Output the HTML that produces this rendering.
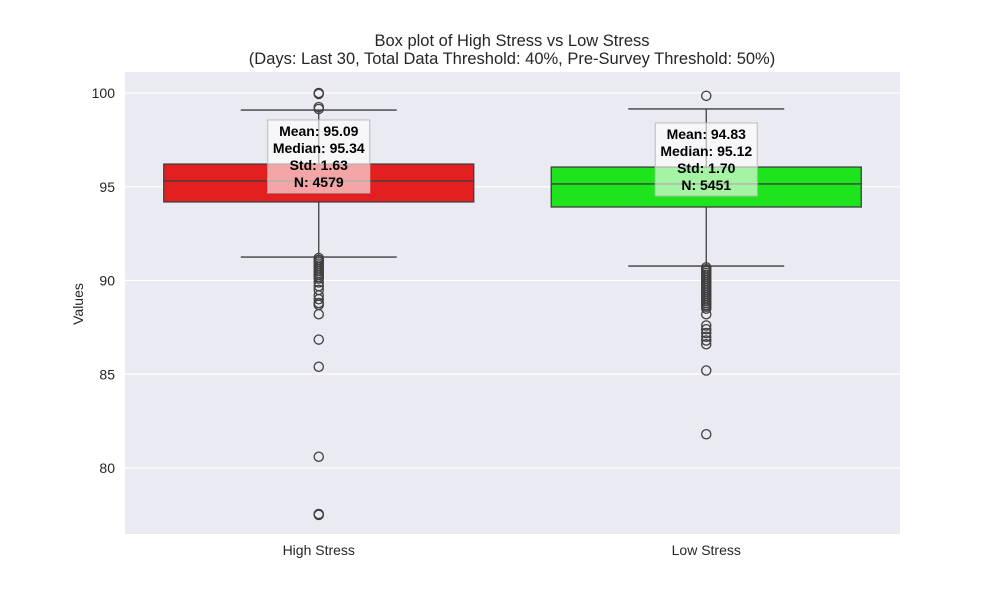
<!DOCTYPE html>
<html><head><meta charset="utf-8"><style>
body{margin:0;background:#fff;font-family:"Liberation Sans",sans-serif;}
svg text{font-family:"Liberation Sans",sans-serif;}
</style></head><body>
<svg id="chart" width="1000" height="600">
<text x="512" y="46" text-anchor="middle" font-size="16.5" fill="#262626">Box plot of High Stress vs Low Stress</text>
<text x="512" y="64" text-anchor="middle" font-size="16.5" fill="#262626">(Days: Last 30, Total Data Threshold: 40%, Pre-Survey Threshold: 50%)</text>
<rect x="125" y="72" width="775" height="462" fill="#eaeaf2"/>
<g id="grid"></g><g id="marks"></g>
<text transform="translate(83,304) rotate(-90)" text-anchor="middle" font-size="14" fill="#262626">Values</text>
</svg>
<script>
const categories=["High Stress","Low Stress"];
const colors=["#e41f1f","#1de41d"];
const q1=[94.19,93.92];
const medians=[95.31,95.15];
const q3=[96.21,96.05];
const whiskLo=[91.25,90.77];
const whiskHi=[99.09,99.15];
const outliersHigh=[100,99.95,99.25,99.15,91.2,91.1,91.0,90.9,90.8,90.7,90.6,90.5,90.4,90.3,90.2,90.1,89.9,89.7,89.5,89.2,89.0,88.8,88.7,88.2,86.85,85.4,80.6,77.55,77.5];
const outliersLow=[99.85,90.7,90.6,90.5,90.4,90.3,90.2,90.1,90.0,89.9,89.8,89.7,89.6,89.5,89.4,89.3,89.2,89.1,89.0,88.9,88.8,88.7,88.6,88.5,88.2,87.6,87.4,87.2,87.0,86.8,86.6,85.2,81.8];
const means=["95.09","94.83"],medText=["95.34","95.12"],stds=["1.63","1.70"],ns=["4579","5451"];
const yTicks=[80,85,90,95,100];
const y=v=>93+(100-v)*18.75;
const xc=i=>125+775*(i+0.5)/2;
const NS="http://www.w3.org/2000/svg";
function mk(p,t,a){const e=document.createElementNS(NS,t);for(const k in a)e.setAttribute(k,a[k]);p.appendChild(e);return e;}
const grid=document.getElementById('grid'),marks=document.getElementById('marks'),svg=document.getElementById('chart');
yTicks.forEach(t=>{
 const l=mk(grid,'line',{x1:125,x2:900,y1:y(t),y2:y(t),stroke:'#fff','stroke-width':1.2});
 
 
 const tx=mk(svg,'text',{x:115,y:y(t)+5,'text-anchor':'end','font-size':14,fill:'#262626'});tx.textContent=t;
 
 
});
const outs=[outliersHigh,outliersLow];
categories.forEach((c,i)=>{
 const cx=xc(i),hw=155,cw=78;
 const g=mk(marks,'g',{});
 
 
 mk(g,'line',{x1:cx,x2:cx,y1:y(whiskHi[i]),y2:y(q3[i]),stroke:'#3f3f3f','stroke-width':1.3});
 mk(g,'line',{x1:cx,x2:cx,y1:y(q1[i]),y2:y(whiskLo[i]),stroke:'#3f3f3f','stroke-width':1.3});
 mk(g,'line',{x1:cx-cw,x2:cx+cw,y1:y(whiskHi[i]),y2:y(whiskHi[i]),stroke:'#3f3f3f','stroke-width':1.3});
 mk(g,'line',{x1:cx-cw,x2:cx+cw,y1:y(whiskLo[i]),y2:y(whiskLo[i]),stroke:'#3f3f3f','stroke-width':1.3});
 mk(g,'rect',{x:cx-hw,y:y(q3[i]),width:2*hw,height:y(q1[i])-y(q3[i]),fill:colors[i],stroke:'#3f3f3f','stroke-width':1.3});
 mk(g,'line',{x1:cx-hw,x2:cx+hw,y1:y(medians[i]),y2:y(medians[i]),stroke:'#3f3f3f','stroke-width':1.3});
 outs[i].forEach(v=>{const o=mk(g,'circle',{cx:cx,cy:y(v),r:4.6,fill:'none',stroke:'#3f3f3f','stroke-width':1.3});
  
  });
 const ay=y(medians[i])-61;
 const a=mk(svg,'g',{});
 
 
 mk(a,'rect',{x:cx-51,y:ay,width:102,height:73,fill:'#fff','fill-opacity':0.6,stroke:'#bbb','stroke-width':1});
 ["Mean: "+means[i],"Median: "+medText[i],"Std: "+stds[i],"N: "+ns[i]].forEach((s,k)=>{
  const t=mk(a,'text',{x:cx,y:ay+16+k*17,'text-anchor':'middle','font-size':14,'font-weight':'bold',fill:'#000'});t.textContent=s;});
 const xl=mk(svg,'text',{x:cx,y:555,'text-anchor':'middle','font-size':14,fill:'#262626'});xl.textContent=c;
 
 
});
</script>
</body></html>
